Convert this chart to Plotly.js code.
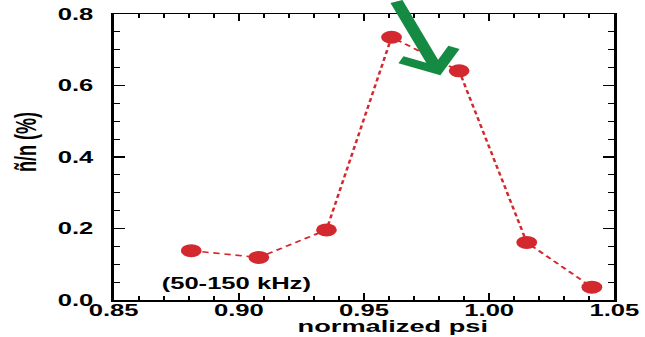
<!DOCTYPE html>
<html>
<head>
<meta charset="utf-8">
<script src="https://cdn.plot.ly/plotly-3.0.1.min.js"></script>
<style>
  html, body { margin: 0; padding: 0; background: #ffffff; overflow: hidden; }
  /* the figure is laid out narrow and widened horizontally, giving the broad lettering and oval markers */
  #plot { width: 403px; height: 337px; transform: scaleX(1.6); transform-origin: 0 0; }
</style>
</head>
<body>
<div id="plot"></div>
<script>
// Relative density fluctuation amplitude versus normalized flux
const psi = [0.881, 0.908, 0.935, 0.961, 0.988, 1.015, 1.041];
const fluct = [0.138, 0.119, 0.196, 0.735, 0.641, 0.161, 0.036];

const xTitle = 'normalized psi';
const yTitle = 'ñ/n (%)';
const bandLabel = '(50-150 kHz)';
const bandLabelAt = [0.899, 0.045];
const arrowTip = [0.9805, 0.629];

const red = '#d3292e';
const green = '#148a42';
const font = 'Liberation Sans, Arial, sans-serif';

const trace = {
  x: psi,
  y: fluct,
  type: 'scatter',
  mode: 'lines+markers',
  line: { color: red, width: 1.6, dash: '4px,3px' },
  marker: { color: red, size: 13, line: { width: 0 } },
  cliponaxis: false,
  hoverinfo: 'x+y'
};

const axisCommon = {
  showgrid: false,
  zeroline: false,
  showline: true,
  linecolor: '#000',
  linewidth: 1.5,
  mirror: 'ticks',
  ticks: 'inside',
  tickcolor: '#000',
  tickwidth: 1.3,
  ticklen: 7,
  tickfont: { family: font, size: 16, color: '#000', weight: 'bold' }
};

const layout = {
  width: 403,
  height: 337,
  margin: { l: 71, r: 19, t: 14, b: 37 },
  paper_bgcolor: '#ffffff',
  plot_bgcolor: '#ffffff',
  showlegend: false,
  xaxis: Object.assign({}, axisCommon, {
    range: [0.85, 1.05],
    dtick: 0.05,
    tick0: 0.85,
    tickformat: '.2f',
    ticklabelstandoff: -5,
    minor: { dtick: 0.01, ticks: 'inside', ticklen: 4, tickcolor: '#000', tickwidth: 1.2 }
  }),
  yaxis: Object.assign({}, axisCommon, {
    range: [0, 0.8],
    dtick: 0.2,
    tick0: 0,
    tickformat: '.1f',
    ticklabelstandoff: 8,
    minor: { dtick: 0.05, ticks: 'inside', ticklen: 4, tickcolor: '#000', tickwidth: 1.2 }
  }),
  annotations: [
    {
      // x-axis title, set a little right of centre near the bottom edge
      text: xTitle,
      xref: 'paper', yref: 'paper',
      x: 0.559, y: -0.052,
      xanchor: 'center', yanchor: 'top',
      showarrow: false,
      font: { family: font, size: 17, color: '#000', weight: 'bold' }
    },
    {
      text: yTitle,
      xref: 'paper', yref: 'paper',
      x: -0.175, y: 0.553,
      xanchor: 'center', yanchor: 'middle',
      textangle: -90,
      showarrow: false,
      font: { family: font, size: 18, color: '#000', weight: 'bold' }
    },
    {
      text: bandLabel,
      xref: 'x', yref: 'y',
      x: bandLabelAt[0], y: bandLabelAt[1],
      xanchor: 'center', yanchor: 'middle',
      showarrow: false,
      font: { family: font, size: 16, color: '#000', weight: 'bold' }
    },
    {
      text: '',
      xref: 'x', yref: 'y',
      x: arrowTip[0], y: arrowTip[1],
      showarrow: true,
      arrowhead: 4,
      arrowsize: 0.85,
      arrowwidth: 8,
      arrowcolor: green,
      standoff: 0,
      ax: -28,
      ay: -90
    }
  ]
};

Plotly.newPlot('plot', [trace], layout, { displayModeBar: false, staticPlot: true });
</script>
</body>
</html>
